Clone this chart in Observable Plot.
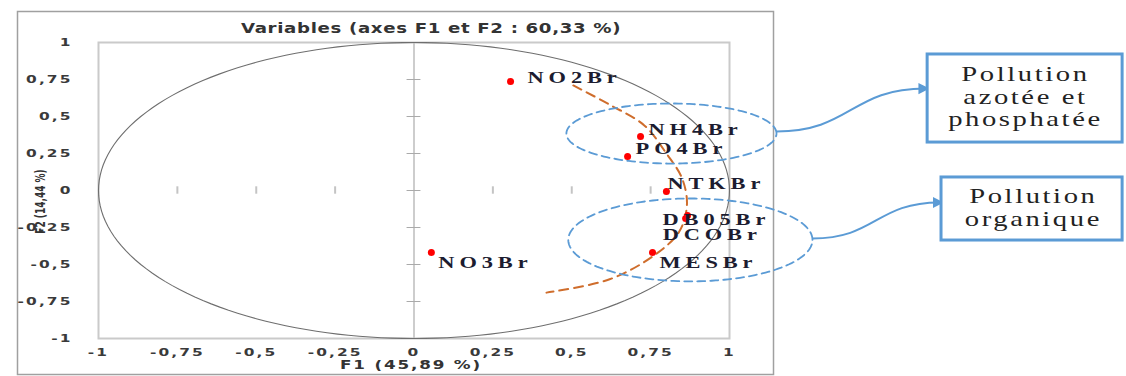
<!DOCTYPE html>
<html><head><meta charset="utf-8">
<script src="https://cdn.jsdelivr.net/npm/d3@7"></script>
<script src="https://cdn.jsdelivr.net/npm/@observablehq/plot@0.6"></script>
<style>body{margin:0;background:#fff}</style>
</head><body><div id="chart"></div>
<script>
// ---------- data ----------
const title = "Variables (axes F1 et F2 : 60,33 %)";
const xAxisTitle = "F1 (45,89 %)";
const yAxisTitle = "F2 (14,44 %)";
const variables = ["NO2Br", "NH4Br", "PO4Br", "NTKBr", "DB05Br", "DCOBr", "MESBr", "NO3Br"];
const f1 = [0.306, 0.718, 0.677, 0.800, 0.867, 0.861, 0.756, 0.055];
const f2 = [0.736, 0.365, 0.230, -0.007, -0.169, -0.190, -0.419, -0.419];
const tickValues = [-1, -0.75, -0.5, -0.25, 0, 0.25, 0.5, 0.75, 1];
const tickLabels = ["-1", "-0,75", "-0,5", "-0,25", "0", "0,25", "0,5", "0,75", "1"];
// orange dashed trend arc
const trendF1 = [0.505, 0.62, 0.73, 0.80, 0.85, 0.865, 0.84, 0.76, 0.62, 0.42];
const trendF2 = [0.71, 0.58, 0.44, 0.25, 0.08, -0.10, -0.28, -0.44, -0.60, -0.69];
// annotation groups
const groupLabels = ["Pollution\nazotée et\nphosphatée", "Pollution\norganique"];
const groupCenterF1 = [0.816, 0.876];
const groupCenterF2 = [0.385, -0.334];
const groupRadiusF1 = [0.333, 0.387];
const groupRadiusF2 = [0.203, 0.28];
const boxX1 = [1.628, 1.672], boxX2 = [2.246, 2.246];
const boxY1 = [0.919, 0.088], boxY2 = [0.324, -0.338];
const boxTextX = [1.938, 1.963], boxTextY = [0.635, -0.115];
const arrowX1 = [1.149, 1.263], arrowY1 = [0.399, -0.324];
const arrowX2 = [1.621, 1.666], arrowY2 = [0.689, -0.081];

// label offsets (px) relative to each point
const labelOffset = {
  NO2Br: [17, -4], NH4Br: [8, -7], PO4Br: [8, -8], NTKBr: [1, -8],
  DB05Br: [-25, 4], DCOBr: [-23, 16], MESBr: [7, 10], NO3Br: [7, 10]
};

// ---------- build ----------
const points = variables.map((v, i) => ({v, x: f1[i], y: f2[i]}));
const trend = trendF1.map((x, i) => ({x, y: trendF2[i]}));
const angles = d3.range(0, 361, 2).map(a => a * Math.PI / 180);
const circle = angles.map(a => ({x: Math.cos(a), y: Math.sin(a)}));
const ellipses = groupLabels.flatMap((g, i) => angles.map(a => ({
  g, x: groupCenterF1[i] + groupRadiusF1[i] * Math.cos(a), y: groupCenterF2[i] + groupRadiusF2[i] * Math.sin(a)
})));
const boxes = groupLabels.map((g, i) => ({g, x1: boxX1[i], x2: boxX2[i], y1: boxY1[i], y2: boxY2[i], tx: boxTextX[i], ty: boxTextY[i]}));
const arrows = groupLabels.map((g, i) => ({g, x1: arrowX1[i], y1: arrowY1[i], x2: arrowX2[i], y2: arrowY2[i]}));
const fmt = d => tickLabels[tickValues.indexOf(d)];

const blue = "#5b9bd5";
const sans = "DejaVu Sans";
const serif = "Liberation Serif";

const chart = Plot.plot({
  width: 1126, height: 376,
  marginLeft: 98, marginRight: 397, marginTop: 42, marginBottom: 38,
  x: {domain: [-1, 1]},
  y: {domain: [-1, 1]},
  style: {background: "#fff", overflow: "visible"},
  marks: [
    Plot.frame({stroke: "#a0a0a0", strokeWidth: 1.5, insetLeft: -81, insetRight: -44, insetTop: -31, insetBottom: -36}),
    Plot.frame({stroke: "#cacaca", strokeWidth: 2}),
    Plot.ruleX([0], {y1: -1, y2: 1, stroke: "#bdbdbd", strokeWidth: 1.5}),
    Plot.ruleY(tickValues, {x1: -0.022, x2: 0.022, stroke: "#aaa", strokeWidth: 1}),
    Plot.ruleX([-0.75, -0.5, -0.25, 0.25, 0.5, 0.75], {y1: -0.025, y2: 0.025, stroke: "#c4c4c4", strokeWidth: 2}),
    Plot.line(circle, {x: "x", y: "y", stroke: "#6e6e6e", strokeWidth: 1.1}),
    Plot.line(trend, {x: "x", y: "y", curve: "catmull-rom", stroke: "#cf6d2c", strokeWidth: 2, strokeDasharray: "9,6"}),
    Plot.line(ellipses, {x: "x", y: "y", z: "g", stroke: blue, strokeWidth: 1.8, strokeDasharray: "8,5"}),
    Plot.dot(points, {x: "x", y: "y", r: 3.5, fill: "#ff0000"}),
    ...variables.map(v => Plot.text(points.filter(d => d.v === v), {
      x: "x", y: "y", text: "v", textAnchor: "start", dx: labelOffset[v][0], dy: labelOffset[v][1],
      fontFamily: serif, fontWeight: "bold", fontSize: 16, fill: "#1c1c30", ariaDescription: "ptlabel"
    })),
    Plot.link(arrows, {x1: "x1", y1: "y1", x2: "x2", y2: "y2", curve: "bump-x", stroke: blue, strokeWidth: 2, markerEnd: "arrow", ariaDescription: "arrows"}),
    Plot.rect(boxes, {x1: "x1", x2: "x2", y1: "y1", y2: "y2", fill: "#fff", stroke: blue, strokeWidth: 3}),
    Plot.text(boxes, {x: "tx", y: "ty", text: "g", fontFamily: serif, fontSize: 22, lineHeight: 1.03, fill: "#222", ariaDescription: "boxtext"}),
    Plot.axisX({ticks: tickValues, tickSize: 0, tickPadding: 10, tickFormat: fmt, label: null,
      fontFamily: sans, fontWeight: "bold", fontSize: 11, fill: "#3a3a3a", ariaDescription: "ticklab"}),
    Plot.axisY({ticks: tickValues, tickSize: 0, tickPadding: 26, tickFormat: fmt, label: null,
      fontFamily: sans, fontWeight: "bold", fontSize: 11, fill: "#3a3a3a", ariaDescription: "ticklab"}),
    Plot.text([title], {frameAnchor: "top", dx: 17, dy: -19, fontFamily: sans, fontWeight: "bold", fontSize: 14, fill: "#333", ariaDescription: "title"}),
    Plot.text([xAxisTitle], {frameAnchor: "bottom", dy: 27, dx: -3, lineAnchor: "middle", fontFamily: sans, fontWeight: "bold", fontSize: 12, fill: "#333", ariaDescription: "axtitle"}),
    Plot.text([yAxisTitle], {frameAnchor: "left", textAnchor: "middle", lineAnchor: "middle", dx: -58, dy: 11, rotate: -90, fontFamily: sans, fontWeight: "bold", fontSize: 10, fill: "#333", ariaDescription: "ytitle"})
  ]
});
document.getElementById("chart").appendChild(chart);
// the reference's lettering is horizontally stretched: widen glyphs and space them
const sel = d3.select(chart);
const stretch = (desc, sx, sy, spacing) => {
  sel.selectAll(`[aria-description="${desc}"]`).style("letter-spacing", spacing + "px")
    .selectAll("text").each(function () {
      const t = this.getAttribute("transform") || "";
      this.setAttribute("transform", `${t} scale(${sx},${sy})`);
    });
};
stretch("ptlabel", 1.4, 1, 3.5);
stretch("boxtext", 1.3, 1, 2);
stretch("ticklab", 1.4, 1, 1.5);
stretch("title", 1.3, 1, 0.5);
stretch("axtitle", 1.4, 1, 1.3);
stretch("ytitle", 0.9, 1.35, 0);
// filled arrowheads like the reference
sel.selectAll('[aria-description="arrows"] marker, marker').each(function () {
  const m = d3.select(this);
  m.attr("fill", blue).attr("stroke", "none").attr("markerWidth", 7).attr("markerHeight", 7)
    .attr("viewBox", "-5 -5 10 10").attr("refX", 0);
  m.selectAll("path").attr("d", "M-5,-4L3,0L-5,4Z").attr("fill", blue).attr("stroke", "none");
});
</script></body></html>
